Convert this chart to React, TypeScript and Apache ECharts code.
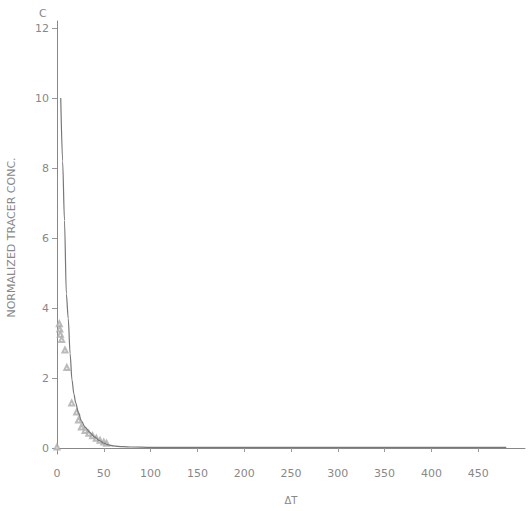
import React, { useEffect, useRef } from "react";
import * as echarts from "echarts";

const curveT = [4, 6, 8, 10, 12, 14, 16, 18, 20, 23, 26, 30, 35, 40, 45, 50, 55, 60, 70, 80, 100, 150, 200, 300, 400, 480];
const curveV = [10, 8.2, 6.5, 4.4, 3.7, 2.7, 1.95, 1.55, 1.29, 1.0, 0.78, 0.6, 0.45, 0.32, 0.22, 0.14, 0.09, 0.06, 0.04, 0.03, 0.02, 0.02, 0.02, 0.02, 0.02, 0.02];

const pointT = [0, 2.5, 3, 3.6, 5, 8.5, 10.5, 15.7, 21, 23, 26, 30, 34, 38, 42, 46, 50, 53];
const pointV = [0.03, 3.55, 3.4, 3.25, 3.1, 2.8, 2.3, 1.29, 1.03, 0.8, 0.6, 0.5, 0.42, 0.35, 0.28, 0.22, 0.17, 0.14];

const yTicks = [0, 2, 4, 6, 8, 10, 12];

export default function App() {
  const ref = useRef<HTMLDivElement>(null);
  useEffect(() => {
    if (!ref.current) return;
    const chart = echarts.init(ref.current, undefined, { renderer: "svg" });
    const font = "DejaVu Sans";
    chart.setOption({
      animation: false,
      backgroundColor: "#ffffff",
      grid: { left: 57, right: 4, top: 21, bottom: 57, outerBoundsMode: "none", containLabel: false },
      xAxis: {
        type: "value",
        min: 0,
        max: 500,
        interval: 50,
        name: "ΔT",
        nameLocation: "middle",
        nameGap: 41,
        nameTextStyle: { color: "#888", fontSize: 10, fontFamily: font },
        axisLine: { show: true, lineStyle: { color: "#888", width: 1 } },
        axisTick: { show: true, length: 4, lineStyle: { color: "#999" } },
        axisLabel: {
          color: "#888",
          fontSize: 11,
          fontFamily: font,
          margin: 14,
          showMaxLabel: false,
        },
        splitLine: { show: false },
      },
      yAxis: {
        type: "value",
        min: -0.17,
        max: 12.2,
        name: "NORMALIZED TRACER CONC.",
        nameLocation: "middle",
        nameGap: 40,
        nameTextStyle: { color: "#888", fontSize: 11, fontFamily: font },
        axisLine: { show: true, lineStyle: { color: "#888", width: 1 } },
        axisTick: { show: true, length: 5, customValues: yTicks, lineStyle: { color: "#999" } },
        axisLabel: { color: "#888", fontSize: 11, fontFamily: font, margin: 8, customValues: yTicks },
        splitLine: { show: false },
      },
      graphic: [
        {
          type: "text",
          left: 39,
          top: 8,
          style: { text: "C", fill: "#888", fontSize: 11, fontFamily: font },
        },
      ],
      series: [
        {
          type: "line",
          data: curveT.map((t, i) => [t, curveV[i]]),
          showSymbol: false,
          smooth: 0.3,
          smoothMonotone: "x",
          lineStyle: { color: "#777", width: 1.2 },
        },
        {
          type: "scatter",
          data: pointT.map((t, i) => [t, pointV[i]]),
          symbol: "emptyTriangle",
          symbolSize: 5,
          itemStyle: { color: "#aaa", borderColor: "#999", borderWidth: 0.7 },
        },
      ],
    });
    return () => chart.dispose();
  }, []);
  return (
    <div
      ref={ref}
      style={{ position: "fixed", left: 0, top: 0, width: 529, height: 511 }}
    />
  );
}
